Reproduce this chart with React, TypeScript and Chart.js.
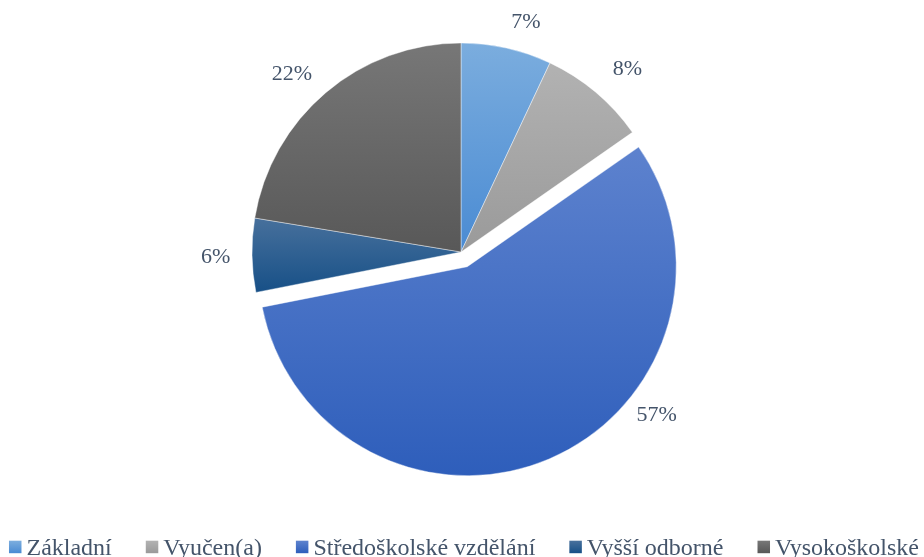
import React, { useEffect, useRef } from "react";
import { Chart, registerables } from "chart.js";

Chart.register(...registerables);

const categories = ["Základní", "Vyučen(a)", "Středoškolské vzdělání", "Vyšší odborné", "Vysokoškolské"];
const values = [7.0, 8.3, 56.6, 5.7, 22.4];
const topColors = ["#7badde", "#b2b2b2", "#5d82ce", "#47709c", "#777777"];
const bottomColors = ["#4a8bd3", "#9a9a9a", "#2e5ebb", "#175087", "#585858"];
const baseColors = ["#5b9bd5", "#a5a5a5", "#4472c4", "#255e91", "#636363"];
const explode = [0, 0, 16, 0, 0];

const RADIUS = 209;
const FONT = "'Liberation Serif', 'Times New Roman', serif";
const TEXT_COLOR = "#44546a";

const TOTAL = values.reduce((a, b) => a + b, 0);

function sliceGradient(ctx: any) {
  const i = ctx.dataIndex;
  const chart = ctx.chart;
  const area = chart.chartArea;
  if (i === undefined || !area) return baseColors[i ?? 0];
  const cx = (area.left + area.right) / 2;
  const cy = (area.top + area.bottom) / 2;
  let cum = 0;
  for (let k = 0; k < i; k++) cum += values[k];
  const start = -Math.PI / 2 + (2 * Math.PI * cum) / TOTAL;
  const end = start + (2 * Math.PI * values[i]) / TOTAL;
  // gradient is in the slice's own (un-exploded) frame; explosion is applied by translation
  const ys = [cy, cy + RADIUS * Math.sin(start), cy + RADIUS * Math.sin(end)];
  if (start <= Math.PI / 2 && end >= Math.PI / 2) ys.push(cy + RADIUS);
  if (start <= -Math.PI / 2 + 1e-9 || end >= (3 * Math.PI) / 2 - 1e-9) ys.push(cy - RADIUS);
  const ymin = Math.min(...ys);
  const ymax = Math.max(...ys);
  const g = chart.ctx.createLinearGradient(0, ymin, 0, ymax);
  g.addColorStop(0, topColors[i]);
  g.addColorStop(1, bottomColors[i]);
  return g;
}

// Explode slices by translating them (keeps their radius unchanged)
const explodePlugin = {
  id: "explodeSlices",
  beforeDatasetsDraw(chart: any) {
    const meta = chart.getDatasetMeta(0);
    meta.data.forEach((arc: any, i: number) => {
      if (!explode[i] || arc.__exploded) return;
      const orig = arc.draw.bind(arc);
      arc.draw = (ctx: any, area: any) => {
        const mid = (arc.startAngle + arc.endAngle) / 2;
        ctx.save();
        ctx.translate(Math.cos(mid) * explode[i], Math.sin(mid) * explode[i]);
        orig(ctx, area);
        ctx.restore();
      };
      arc.__exploded = true;
    });
  },
};

const labelPlugin = {
  id: "sliceLabels",
  afterDatasetsDraw(chart: any, _args: any, opts: any) {
    const meta = chart.getDatasetMeta(0);
    const c = chart.ctx;
    c.save();
    c.font = `22px ${FONT}`;
    c.fillStyle = TEXT_COLOR;
    c.textAlign = "center";
    c.textBaseline = "middle";
    meta.data.forEach((arc: any, i: number) => {
      const p = arc.getProps(["x", "y", "startAngle", "endAngle", "outerRadius"], true);
      const off = explode[i];
      const mid = (p.startAngle + p.endAngle) / 2;
      const ex = p.x + Math.cos(mid) * off;
      const ey = p.y + Math.sin(mid) * off;
      const a = mid + ((opts.angleShift[i] || 0) * Math.PI) / 180;
      const r = p.outerRadius + opts.gap[i];
      const label = Math.round((values[i] / TOTAL) * 100) + "%";
      c.fillText(label, ex + Math.cos(a) * r, ey + Math.sin(a) * r);
    });
    c.restore();
  },
};

const legendPlugin = {
  id: "bottomLegend",
  afterDraw(chart: any, _args: any, opts: any) {
    const c = chart.ctx;
    c.save();
    c.font = `24px ${FONT}`;
    const box = 12.5;
    const widths = categories.map((t) => box + opts.boxGap + c.measureText(t).width);
    const total = widths.reduce((a, b) => a + b, 0) + opts.itemGap * (categories.length - 1);
    let x = (chart.width - total) / 2 + opts.shiftX;
    const base = opts.baseline;
    categories.forEach((t, i) => {
      const g = c.createLinearGradient(0, base - 14, 0, base - 2);
      g.addColorStop(0, topColors[i]);
      g.addColorStop(1, bottomColors[i]);
      c.fillStyle = g;
      c.fillRect(x, base - 14.3, box, box);
      c.fillStyle = TEXT_COLOR;
      c.textAlign = "left";
      c.textBaseline = "alphabetic";
      c.fillText(t, x + box + opts.boxGap, base);
      x += widths[i] + opts.itemGap;
    });
    c.restore();
  },
};

export default function App() {
  const ref = useRef<HTMLCanvasElement | null>(null);
  useEffect(() => {
    if (!ref.current) return;
    Chart.defaults.font.family = FONT;
    const chart = new Chart(ref.current, {
      type: "pie",
      data: {
        labels: categories,
        datasets: [
          {
            data: values,
            backgroundColor: sliceGradient as any,
            borderColor: "rgba(255,255,255,0.55)",
            borderWidth: 0.75,
            radius: RADIUS,
          } as any,
        ],
      },
      options: {
        responsive: false,
        animation: false,
        layout: { padding: { top: 0, bottom: 53, left: 0, right: 2 } },
        plugins: {
          legend: { display: false },
          tooltip: { enabled: false },
          sliceLabels: { gap: [29.5, 38.5, 32, 36.5, 36.5], angleShift: [3.2, 2.1, -28.8, -0.3, -3.2] },
          bottomLegend: { boxGap: 5, itemGap: 34, baseline: 555, shiftX: 2 },
        } as any,
      },
      plugins: [explodePlugin, labelPlugin, legendPlugin],
    });
    return () => chart.destroy();
  }, []);
  return (
    <div style={{ position: "fixed", left: 0, top: 0, width: 924, height: 557, background: "#fff" }}>
      <canvas ref={ref} width={924} height={557} />
    </div>
  );
}
